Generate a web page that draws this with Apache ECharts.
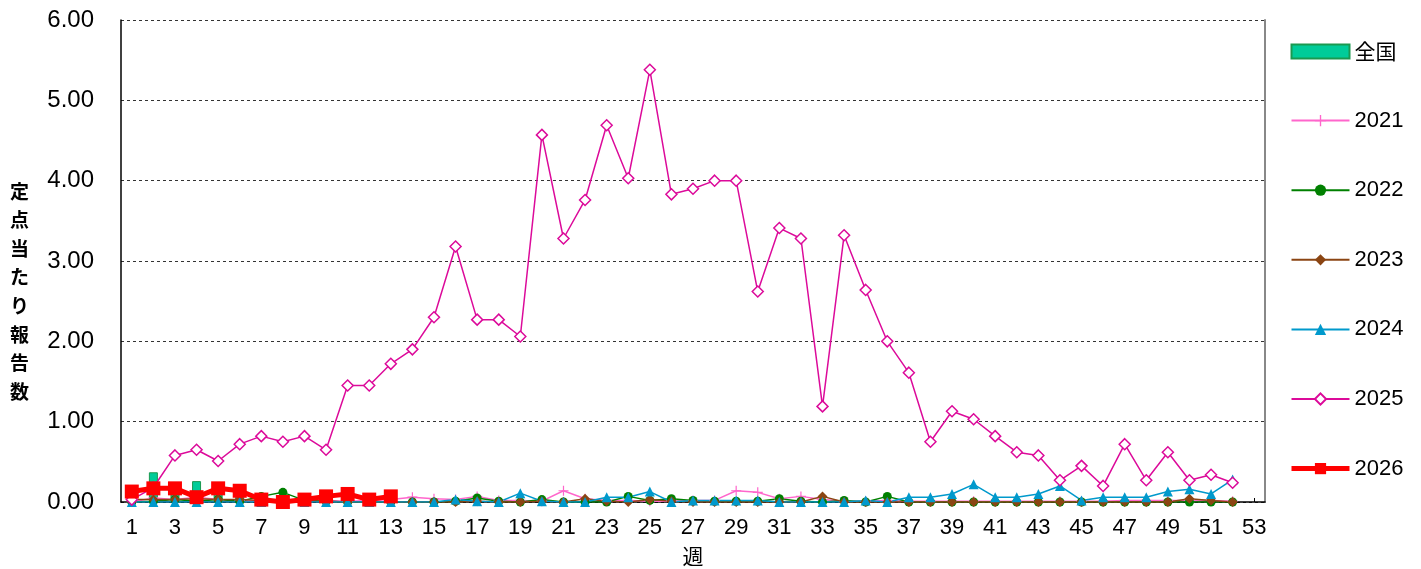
<!DOCTYPE html>
<html>
<head>
<meta charset="utf-8">
<script src="https://cdn.jsdelivr.net/npm/echarts@6/dist/echarts.min.js"></script>
<style>
  html, body { margin: 0; padding: 0; background: #fff; }
  #chart { width: 1421px; height: 569px; }
</style>
</head>
<body>
<div id="chart"></div>
<script>
// 週 1〜53
const weeks = Array.from({ length: 53 }, (_, i) => String(i + 1))

// 全国（2026）
const national = [0.10, 0.37, 0.14, 0.26, 0.15, 0.12, 0.04, 0.02, 0.03, 0.05, 0.08, 0.03, 0.06]

const y2021 = [0.00, 0.05, 0.03, 0.06, 0.03, 0.02, 0.01, 0.01, 0.02, 0.02, 0.01, 0.02, 0.03,
  0.06, 0.04, 0.03, 0.07, 0.02, 0.02, 0.01, 0.14, 0.04, 0.02, 0.02, 0.01, 0.01,
  0.02, 0.02, 0.14, 0.12, 0.04, 0.07, 0.03, 0.01, 0.01, 0.02, 0.01, 0.01, 0.01,
  0.01, 0.01, 0.01, 0.01, 0.01, 0.01, 0.01, 0.02, 0.02, 0.02, 0.02, 0.02, 0.01]

const y2022 = [0.00, 0.01, 0.03, 0.01, 0.03, 0.01, 0.07, 0.12, 0.02, 0.01, 0.00, 0.00, 0.00,
  0.00, 0.00, 0.01, 0.05, 0.01, 0.00, 0.03, 0.00, 0.00, 0.00, 0.07, 0.02, 0.04,
  0.02, 0.01, 0.01, 0.01, 0.04, 0.01, 0.00, 0.02, 0.00, 0.07, 0.00, 0.00, 0.00,
  0.00, 0.00, 0.00, 0.00, 0.00, 0.00, 0.00, 0.00, 0.00, 0.00, 0.00, 0.00, 0.00]

const y2023 = [0.03, 0.03, 0.03, 0.04, 0.03, 0.03, 0.02, 0.01, 0.01, 0.01, 0.00, 0.00, 0.00,
  0.00, 0.00, 0.00, 0.01, 0.00, 0.00, 0.01, 0.00, 0.04, 0.01, 0.00, 0.03, 0.01,
  0.00, 0.00, 0.00, 0.00, 0.00, 0.00, 0.07, 0.00, 0.00, 0.00, 0.00, 0.00, 0.00,
  0.00, 0.00, 0.00, 0.00, 0.00, 0.00, 0.00, 0.00, 0.00, 0.00, 0.04, 0.02, 0.00]

const y2024 = [0.00, 0.00, 0.00, 0.00, 0.00, 0.00, 0.00, 0.00, 0.00, 0.00, 0.00, 0.00, 0.00,
  0.00, 0.00, 0.03, 0.01, 0.00, 0.11, 0.01, 0.00, 0.00, 0.06, 0.06, 0.13, 0.00,
  0.02, 0.02, 0.02, 0.02, 0.00, 0.00, 0.00, 0.00, 0.02, 0.00, 0.06, 0.06, 0.10,
  0.22, 0.06, 0.06, 0.10, 0.20, 0.02, 0.06, 0.06, 0.06, 0.13, 0.16, 0.10, 0.28]

const y2025 = [0.03, 0.18, 0.58, 0.65, 0.51, 0.72, 0.82, 0.75, 0.82, 0.65, 1.45, 1.45, 1.72,
  1.90, 2.30, 3.18, 2.27, 2.27, 2.06, 4.57, 3.28, 3.76, 4.69, 4.03, 5.38, 3.83,
  3.90, 4.00, 4.00, 2.62, 3.41, 3.28, 1.19, 3.32, 2.64, 2.00, 1.61, 0.75, 1.13,
  1.03, 0.82, 0.62, 0.58, 0.27, 0.45, 0.20, 0.72, 0.27, 0.62, 0.27, 0.34, 0.24]

const y2026 = [0.13, 0.17, 0.17, 0.06, 0.17, 0.14, 0.03, 0.00, 0.03, 0.07, 0.10, 0.03, 0.07]

const yTicks = [0, 1, 2, 3, 4, 5, 6]

const chart = echarts.init(document.getElementById('chart'))

const numFont = '"Liberation Sans", Arial, sans-serif'
const jpFont = '"Noto Sans CJK JP", sans-serif'
const plus = 'path://M4.4,0H5.6V4.4H10V5.6H5.6V10H4.4V5.6H0V4.4H4.4Z'

const lineSeries = (name, data, color, symbol, size, extra) => Object.assign({
  name,
  type: 'line',
  data,
  symbol,
  symbolSize: size,
  lineStyle: { color, width: 1.5 },
  itemStyle: { color }
}, extra || {})

chart.setOption({
  animation: false,
  grid: { left: 121, right: 156, top: 20, bottom: 67, outerBoundsMode: 'none' },
  legend: {
    orient: 'vertical',
    left: 1289,
    top: 41,
    padding: 0,
    itemWidth: 58,
    itemHeight: 14,
    itemGap: 47.6,
    textStyle: { fontSize: 22, fontFamily: numFont, color: '#000' },
    data: [
      { name: '全国', icon: 'rect', textStyle: { fontFamily: jpFont, fontSize: 21 } },
      '2021', '2022', '2023', '2024', '2025',
      { name: '2026', lineStyle: { width: 5 } }
    ]
  },
  // 縦軸タイトル（1文字ずつ縦に並べる）
  graphic: [{
    type: 'text',
    left: 10,
    top: 177,
    style: {
      text: '定点当たり報告数'.split('').join('\n'),
      font: 'bold 19px "Noto Sans CJK JP", sans-serif',
      lineHeight: 28.6,
      fill: '#000'
    }
  }],
  xAxis: {
    type: 'category',
    data: weeks,
    name: '週',
    nameLocation: 'middle',
    nameGap: 44,
    nameTextStyle: { fontSize: 21, fontFamily: jpFont, color: '#000', verticalAlign: 'top' },
    axisLine: { lineStyle: { color: '#000', width: 1.5 } },
    axisTick: { show: true, inside: true, length: 4, interval: 1, alignWithLabel: true, lineStyle: { color: '#000' } },
    axisLabel: { interval: 1, fontSize: 22, fontFamily: numFont, color: '#000', margin: 15 },
    splitLine: { show: false }
  },
  yAxis: [{
    type: 'value',
    min: yTicks[0],
    max: yTicks[yTicks.length - 1],
    interval: 1,
    axisLine: { show: true, lineStyle: { color: '#000', width: 1.5 } },
    axisTick: { show: false },
    axisLabel: { fontSize: 24, fontFamily: numFont, color: '#000', margin: 27, formatter: v => v.toFixed(2) },
    splitLine: { show: true, lineStyle: { color: '#333', type: [3, 3], width: 1 } }
  }, {
    type: 'value',
    position: 'right',
    min: 0,
    max: 6,
    interval: 1,
    axisLine: { show: true, lineStyle: { color: '#888', width: 2 } },
    axisTick: { show: false },
    axisLabel: { show: false },
    splitLine: { show: false }
  }],
  series: [
    {
      name: '全国',
      type: 'bar',
      data: national,
      barWidth: 9,
      itemStyle: { color: '#00CC99', borderColor: '#1A9950', borderWidth: 1 }
    },
    lineSeries('2021', y2021, '#FF66CC', plus, 10),
    lineSeries('2022', y2022, '#008000', 'circle', 9),
    lineSeries('2023', y2023, '#8B4513', 'diamond', 10),
    lineSeries('2024', y2024, '#0099CC', 'triangle', 10),
    lineSeries('2025', y2025, '#DC0A9A', 'diamond', 11, {
      itemStyle: { color: '#fff', borderColor: '#DC0A9A', borderWidth: 1.5 }
    }),
    lineSeries('2026', y2026, '#FF0000', 'rect', 14, {
      lineStyle: { color: '#FF0000', width: 5 },
      z: 5
    })
  ]
})
</script>
</body>
</html>
